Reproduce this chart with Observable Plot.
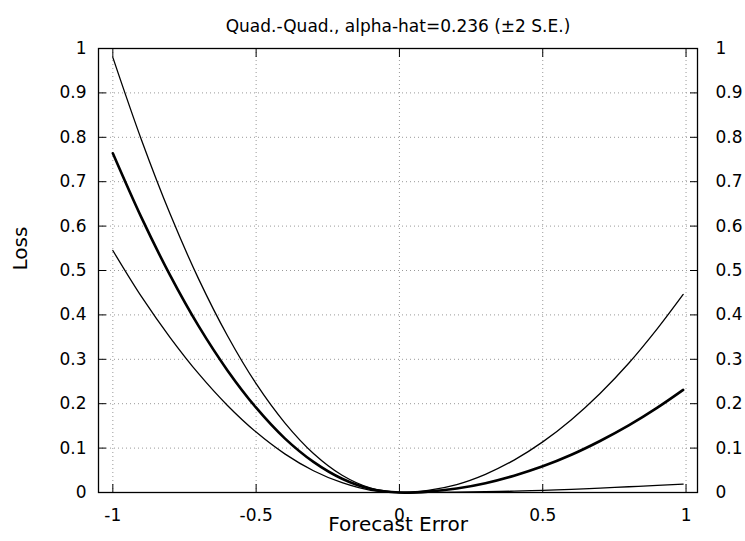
<!DOCTYPE html>
<html>
<head>
<meta charset="utf-8">
<script src="https://cdn.jsdelivr.net/npm/d3@7"></script>
<script src="https://cdn.jsdelivr.net/npm/@observablehq/plot@0.6"></script>
<style>
  html, body { margin: 0; padding: 0; background: #fff; }
  #chart svg { display: block; }
</style>
</head>
<body>
<div id="chart"></div>
<script>
const titleText = "Quad.-Quad., alpha-hat=0.236 (±2 S.E.)";
const xLabel = "Forecast Error";
const yLabel = "Loss";
const xTicks = [-1, -0.5, 0, 0.5, 1];
const yTicks = [0, 0.1, 0.2, 0.3, 0.4, 0.5, 0.6, 0.7, 0.8, 0.9, 1];

// forecast error grid
const xs = [-1, -0.9, -0.8, -0.7, -0.6, -0.5, -0.4, -0.3, -0.2, -0.1, 0,
            0.1, 0.2, 0.3, 0.4, 0.5, 0.6, 0.7, 0.8, 0.9, 0.99];
// estimated loss (alpha-hat)
const lossEstimate = [0.764, 0.619, 0.489, 0.374, 0.275, 0.191, 0.122, 0.069, 0.031, 0.008, 0,
                      0.002, 0.009, 0.021, 0.038, 0.059, 0.085, 0.116, 0.151, 0.191, 0.231];
// alpha-hat - 2 S.E.
const lossLowAlpha = [0.98, 0.794, 0.627, 0.480, 0.353, 0.245, 0.157, 0.088, 0.039, 0.010, 0,
                      0.0002, 0.001, 0.002, 0.003, 0.005, 0.007, 0.010, 0.013, 0.016, 0.019];
// alpha-hat + 2 S.E.
const lossHighAlpha = [0.545, 0.441, 0.349, 0.267, 0.196, 0.136, 0.087, 0.049, 0.022, 0.005, 0,
                       0.005, 0.018, 0.041, 0.073, 0.114, 0.164, 0.223, 0.291, 0.369, 0.446];

const mk = (vals) => xs.map((x, i) => ({x, y: vals[i]}));
const fmt = d => String(d);

const chart = Plot.plot({
  width: 745,
  height: 541,
  marginLeft: 98,
  marginRight: 48,
  marginTop: 48,
  marginBottom: 49,
  style: {fontFamily: "'DejaVu Sans', sans-serif", fontSize: "17px", color: "#000", background: "#fff"},
  x: {domain: [-1.05, 1.04]},
  y: {domain: [0, 1]},
  marks: [
    Plot.gridX(xTicks, {stroke: "#999", strokeOpacity: 1, strokeDasharray: "1,3", strokeWidth: 1}),
    Plot.gridY(yTicks, {stroke: "#999", strokeOpacity: 1, strokeDasharray: "1,3", strokeWidth: 1}),
    // inward ticks
    Plot.axisX(xTicks, {anchor: "bottom", tickSize: -8, fill: "none", label: null, strokeWidth: 1}),
    Plot.axisX(xTicks, {anchor: "top", tickSize: -8, fill: "none", label: null, strokeWidth: 1}),
    Plot.axisY(yTicks, {anchor: "left", tickSize: -8, fill: "none", label: null, strokeWidth: 1}),
    Plot.axisY(yTicks, {anchor: "right", tickSize: -8, fill: "none", label: null, strokeWidth: 1}),
    // tick labels
    Plot.axisX(xTicks, {anchor: "bottom", tickSize: 0, tickPadding: 16, tickFormat: fmt, label: null, fontSize: 17}),
    Plot.axisY(yTicks, {anchor: "left", tickSize: 0, tickPadding: 12, tickFormat: fmt, label: null, fontSize: 17}),
    Plot.axisY(yTicks, {anchor: "right", tickSize: 0, tickPadding: 18, tickFormat: fmt, label: null, fontSize: 17}),
    Plot.line(mk(lossLowAlpha), {x: "x", y: "y", stroke: "#000", strokeWidth: 1.3, curve: "catmull-rom"}),
    Plot.line(mk(lossHighAlpha), {x: "x", y: "y", stroke: "#000", strokeWidth: 1.3, curve: "catmull-rom"}),
    Plot.line(mk(lossEstimate), {x: "x", y: "y", stroke: "#000", strokeWidth: 2.6, curve: "catmull-rom"}),
    Plot.frame({stroke: "#000", strokeWidth: 1.3}),
    Plot.text([titleText], {frameAnchor: "top", dy: -29, fontSize: 17, fill: "#000"}),
    Plot.text([xLabel], {frameAnchor: "bottom", dy: 38, fontSize: 20, fill: "#000"}),
    Plot.text([yLabel], {frameAnchor: "left", dx: -78, rotate: -90, fontSize: 20, fill: "#000"})
  ]
});
document.getElementById("chart").appendChild(chart);
</script>
</body>
</html>
